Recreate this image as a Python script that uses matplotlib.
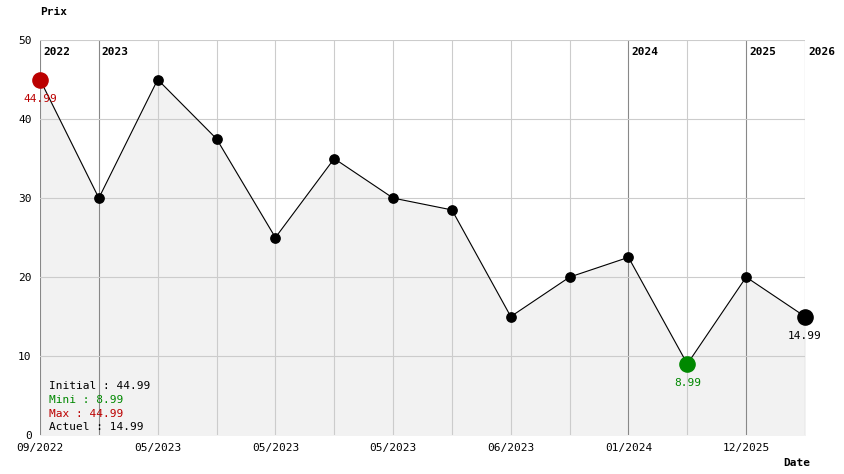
import matplotlib
matplotlib.use('Agg')
import matplotlib.pyplot as plt

prices = [44.99, 29.99, 44.99, 37.49, 24.99, 34.99, 29.99, 28.49, 14.99, 19.99, 22.49, 8.99, 19.99, 14.99]
date_labels = {0: '09/2022', 2: '05/2023', 4: '05/2023', 6: '05/2023', 8: '06/2023', 10: '01/2024', 12: '12/2025'}
year_marks = {0: '2022', 1: '2023', 10: '2024', 12: '2025', 13: '2026'}

plt.rcParams['font.family'] = ['DejaVu Sans Mono']
W, H = 844, 474
fig = plt.figure(figsize=(W / 100, H / 100), dpi=100)
ax = fig.add_axes([40 / W, 39 / H, 765 / W, 395 / H])
x = list(range(len(prices)))

ax.fill_between(x, prices, 0, color='#f2f2f2', zorder=0)
for i in x:
    c = '#888888' if i in year_marks else '#cccccc'
    ax.axvline(i, color=c, lw=0.8, zorder=1)
    if i in year_marks:
        ax.text(i + 0.05, 48.5, year_marks[i], fontsize=8, fontweight='bold', va='center', ha='left')
for yv in [10, 20, 30, 40, 50]:
    ax.axhline(yv, color='#cccccc', lw=0.8, zorder=1)

ax.plot(x, prices, color='black', lw=0.8, zorder=2)
ax.scatter(x, prices, s=45, color='black', zorder=3, clip_on=False)
imax = prices.index(max(prices))
imin = prices.index(min(prices))
ax.scatter([imax], [prices[imax]], s=120, color='#bb0000', zorder=4, clip_on=False)
ax.scatter([imin], [prices[imin]], s=120, color='#008800', zorder=4, clip_on=False)
ax.scatter([x[-1]], [prices[-1]], s=120, color='black', zorder=4, clip_on=False)
ax.text(imax, prices[imax] - 1.8, f'{prices[imax]:.2f}', color='#bb0000', fontsize=8, ha='center', va='top')
ax.text(imin, prices[imin] - 1.8, f'{prices[imin]:.2f}', color='#008800', fontsize=8, ha='center', va='top')
ax.text(x[-1], prices[-1] - 1.8, f'{prices[-1]:.2f}', color='black', fontsize=8, ha='center', va='top')

legend = [(f'Initial : {prices[0]:.2f}', 'black'), (f'Mini : {min(prices):.2f}', '#008800'),
          (f'Max : {max(prices):.2f}', '#bb0000'), (f'Actuel : {prices[-1]:.2f}', 'black')]
for k, (t, c) in enumerate(legend):
    ax.text(0.15, 6.2 - k * 1.75, t, color=c, fontsize=8, va='center')

ax.set_xlim(0, len(prices) - 1)
ax.set_ylim(0, 50)
ax.set_yticks([0, 10, 20, 30, 40, 50])
ax.set_xticks(list(date_labels.keys()))
ax.set_xticklabels(list(date_labels.values()))
ax.tick_params(length=0, labelsize=8, pad=6)
for s in ax.spines.values():
    s.set_visible(False)
fig.text(40 / W, 1 - 12 / H, 'Prix', fontsize=8, fontweight='bold', va='center')
fig.text(783 / W, 1 - 463 / H, 'Date', fontsize=8, fontweight='bold', va='center')
fig.savefig('out.png', dpi=100, facecolor='white')
